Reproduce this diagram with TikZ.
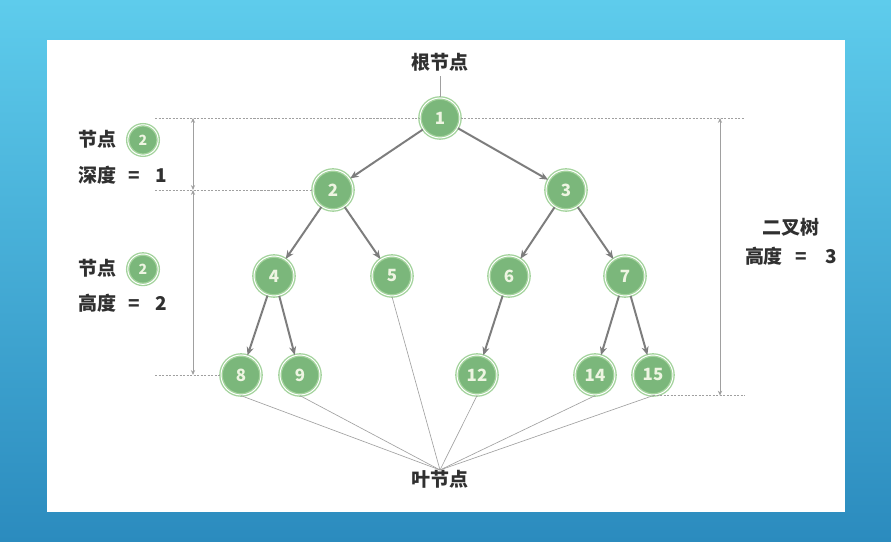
\documentclass[tikz,border=0pt]{standalone}
\usepackage{fontspec}
\setmainfont{Noto Sans CJK SC}
\usetikzlibrary{arrows.meta}
\definecolor{nodegreen}{HTML}{7BB77B}
\definecolor{ringgreen}{HTML}{A3D39C}
\definecolor{nodetext}{HTML}{EEF5E2}
\definecolor{edgegray}{HTML}{7D7D7D}
\definecolor{guidegray}{HTML}{A0A0A0}
\definecolor{labeltext}{HTML}{303030}
\definecolor{bgtop}{HTML}{5ECCEC}
\definecolor{bgbottom}{HTML}{2B8BBE}
\tikzset{
  treenode/.style={circle, fill=nodegreen, draw=ringgreen, double=white,
    double distance=0.7pt, line width=0.95pt, minimum size=1cm, inner sep=0pt,
    text=nodetext, font=\bfseries\fontsize{12}{14}\selectfont},
  legendnode/.style={treenode, minimum size=0.76cm, font=\bfseries\fontsize{10}{12}\selectfont},
  lbl/.style={text=labeltext, inner sep=0pt, font=\bfseries\fontsize{13.5}{16}\selectfont},
  treeedge/.style={draw=edgegray, line width=1.4pt, -{Stealth[length=6pt,width=5pt]}},
  guide/.style={draw=guidegray, line width=0.5pt, dash pattern=on 1.5pt off 1pt},
  dimline/.style={draw=guidegray, line width=0.7pt, {Stealth[length=3.5pt,width=3pt]}-{Stealth[length=3.5pt,width=3pt]}},
  leafline/.style={draw=guidegray, line width=0.45pt}
}
\begin{document}
\begin{tikzpicture}
  \shade[top color=bgtop, bottom color=bgbottom] (0,0) rectangle (22.275,13.55);
  \fill[white] (1.175,0.75) rectangle (21.125,12.55);

  \node[treenode] (n1) at (11,10.6) {1};
  \node[treenode] (n2) at (8.325,8.8) {2};
  \node[treenode] (n3) at (14.15,8.8) {3};
  \node[treenode] (n4) at (6.85,6.65) {4};
  \node[treenode] (n5) at (9.8,6.65) {5};
  \node[treenode] (n6) at (12.725,6.65) {6};
  \node[treenode] (n7) at (15.625,6.65) {7};
  \node[treenode] (n8) at (6.025,4.175) {8};
  \node[treenode] (n9) at (7.5,4.175) {9};
  \node[treenode] (n12) at (11.925,4.175) {12};
  \node[treenode] (n14) at (14.875,4.175) {14};
  \node[treenode] (n15) at (16.325,4.175) {15};

  \foreach \a/\b in {n1/n2,n1/n3,n2/n4,n2/n5,n3/n6,n3/n7,n4/n8,n4/n9,n6/n12,n7/n14,n7/n15}
    { \draw[treeedge] (\a) -- (\b); }

  \node[lbl] (rootlbl) at (11,12.0) {根节点};
  \draw[leafline] (rootlbl.south) ++(0,-0.12) -- (n1.north);
  \node[lbl, anchor=north] (leaflbl) at (11,1.8) {叶节点};
  \foreach \n in {n8,n9,n5,n12,n14,n15}
    { \draw[leafline] (\n.south) -- (leaflbl.north); }

  \coordinate (dimL) at (4.825,0);
  \coordinate (dimR) at (18.0,0);
  \coordinate (guideL) at (3.875,0);
  \coordinate (guideR) at (18.625,0);
  \draw[guide] (guideL |- n1) -- (n1.west);
  \draw[guide] (n1.east) -- (guideR |- n1);
  \draw[guide] (guideL |- n2) -- (n2.west);
  \draw[guide] (guideL |- n8) -- (n8.west);
  \draw[guide] (n15.south) -- (guideR |- n15.south);
  \draw[dimline] (dimL |- n1) -- (dimL |- n2);
  \draw[dimline] (dimL |- n2) -- (dimL |- n8);
  \draw[dimline] (dimR |- n1) -- (dimR |- n15.south);

  \node[lbl, anchor=west] (depthnode) at (1.95,10.06) {节点};
  \node[legendnode] (depthcircle) at (3.575,10.05) {2};
  \node[lbl, anchor=west] (depthval) at (1.95,9.175) {深度\hspace{9pt}=\hspace{11pt}1};
  \node[lbl, anchor=west] (heightnode) at (1.95,6.84) {节点};
  \node[legendnode] (heightcircle) at (3.575,6.82) {2};
  \node[lbl, anchor=west] (heightval) at (1.95,5.96) {高度\hspace{9pt}=\hspace{11pt}2};

  \node[lbl] (treelbl) at (19.775,7.86) {二叉树};
  \node[lbl] (treeheight) at (19.775,7.15) {高度\hspace{9pt}=\hspace{13pt}3};
\end{tikzpicture}
\end{document}
